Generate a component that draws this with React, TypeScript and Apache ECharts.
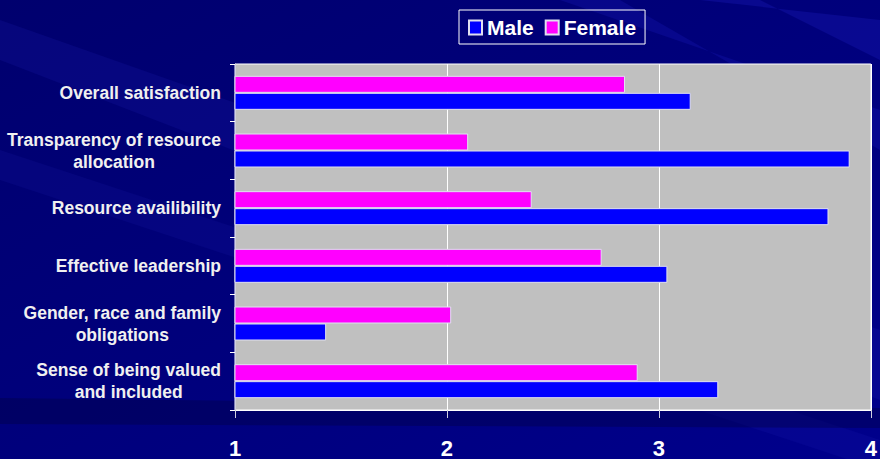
import React, { useEffect, useRef } from "react";
import * as echarts from "echarts";

const categories = [
  "Sense of being valued\nand included",
  "Gender, race and family\nobligations",
  "Effective leadership",
  "Resource availibility",
  "Transparency of resource\nallocation",
  "Overall satisfaction",
];
const maleValues = [3.28, 1.43, 3.04, 3.8, 3.9, 3.15];
const femaleValues = [2.9, 2.02, 2.73, 2.4, 2.1, 2.84];
const seriesNames = ["Male", "Female"];
const xTicks = { min: 1, max: 4, interval: 1 };

const FONT = "'Liberation Sans', Arial, sans-serif";

export default function App() {
  const ref = useRef<HTMLDivElement>(null);
  useEffect(() => {
    if (!ref.current) return;
    const chart = echarts.init(ref.current, undefined, { renderer: "svg" });
    const streak = (pts: number[][], color: string) => ({
      type: "polygon",
      silent: true,
      z: -10,
      shape: { points: pts },
      style: { fill: color },
    });
    chart.setOption({
      animation: false,
      backgroundColor: new echarts.graphic.LinearGradient(0, 0, 1, 1, [
        { offset: 0, color: "#00006E" },
        { offset: 0.5, color: "#00007C" },
        { offset: 1, color: "#00008C" },
      ]),
      graphic: [
        streak([[0, 20], [0, 60], [880, 400], [880, 330]], "rgba(40,40,200,0.15)"),
        streak([[0, 150], [0, 180], [880, 470], [880, 440]], "rgba(40,40,200,0.12)"),
        streak([[560, 0], [620, 0], [880, 150], [880, 110]], "rgba(40,40,220,0.18)"),
        streak([[700, 0], [760, 0], [880, 60], [880, 20]], "rgba(40,40,220,0.22)"),
        streak([[0, 398], [880, 408], [880, 428], [0, 424]], "rgba(0,0,60,0.35)"),
      ],
      legend: {
        data: seriesNames,
        left: 459,
        top: 10,
        padding: [7, 9, 6, 9],
        borderColor: "#FFFFFF",
        borderWidth: 1,
        itemWidth: 13,
        itemHeight: 14,
        itemGap: 11,
        icon: "rect",
        textStyle: { color: "#FFFFFF", fontFamily: FONT, fontWeight: "bold", fontSize: 21 },
      },
      grid: {
        left: 235,
        right: 5,
        top: 64,
        bottom: 46,
        show: true,
        backgroundColor: "#C0C0C0",
        borderColor: "#FFFFFF",
        borderWidth: 1,
      },
      xAxis: {
        type: "value",
        min: xTicks.min,
        max: xTicks.max,
        interval: xTicks.interval,
        axisLine: { show: true, lineStyle: { color: "#FFFFFF", width: 1 } },
        axisTick: { show: true, length: 8, lineStyle: { color: "#D0D0E0" } },
        splitLine: { show: true, lineStyle: { color: "#FFFFFF", width: 1 } },
        axisLabel: {
          color: "#FFFFFF",
          fontFamily: FONT,
          fontWeight: "bold",
          fontSize: 22,
          margin: 27,
        },
      },
      yAxis: {
        type: "category",
        data: categories,
        axisLine: { show: true, lineStyle: { color: "#D0D0E0", width: 1 } },
        axisTick: { show: true, length: 5, lineStyle: { color: "#FFFFFF" } },
        axisLabel: {
          color: "#F0F0F0",
          fontFamily: FONT,
          fontWeight: "bold",
          fontSize: 17.5,
          margin: 14,
          lineHeight: 22,
          formatter: (v: string) =>
            v
              .split("\n")
              .map((l) => `{c|${l}}`)
              .join("\n"),
          rich: {
            c: {
              align: "center",
              color: "#F0F0F0",
              fontFamily: FONT,
              fontWeight: "bold",
              fontSize: 17.5,
              lineHeight: 22,
            },
          },
        },
      },
      series: [
        {
          name: seriesNames[1],
          type: "bar",
          data: femaleValues,
          barWidth: 17,
          barGap: "0%",
          itemStyle: { color: "#FF00FF", borderColor: "#E0E0F0", borderWidth: 1 },
        },
        {
          name: seriesNames[0],
          type: "bar",
          data: maleValues,
          barWidth: 17,
          barGap: "0%",
          itemStyle: { color: "#0000FF", borderColor: "#E0E0F0", borderWidth: 1 },
        },
      ],
    });
    return () => chart.dispose();
  }, []);
  return (
    <div
      ref={ref}
      style={{ position: "fixed", left: 0, top: 0, width: 880, height: 459 }}
    />
  );
}
